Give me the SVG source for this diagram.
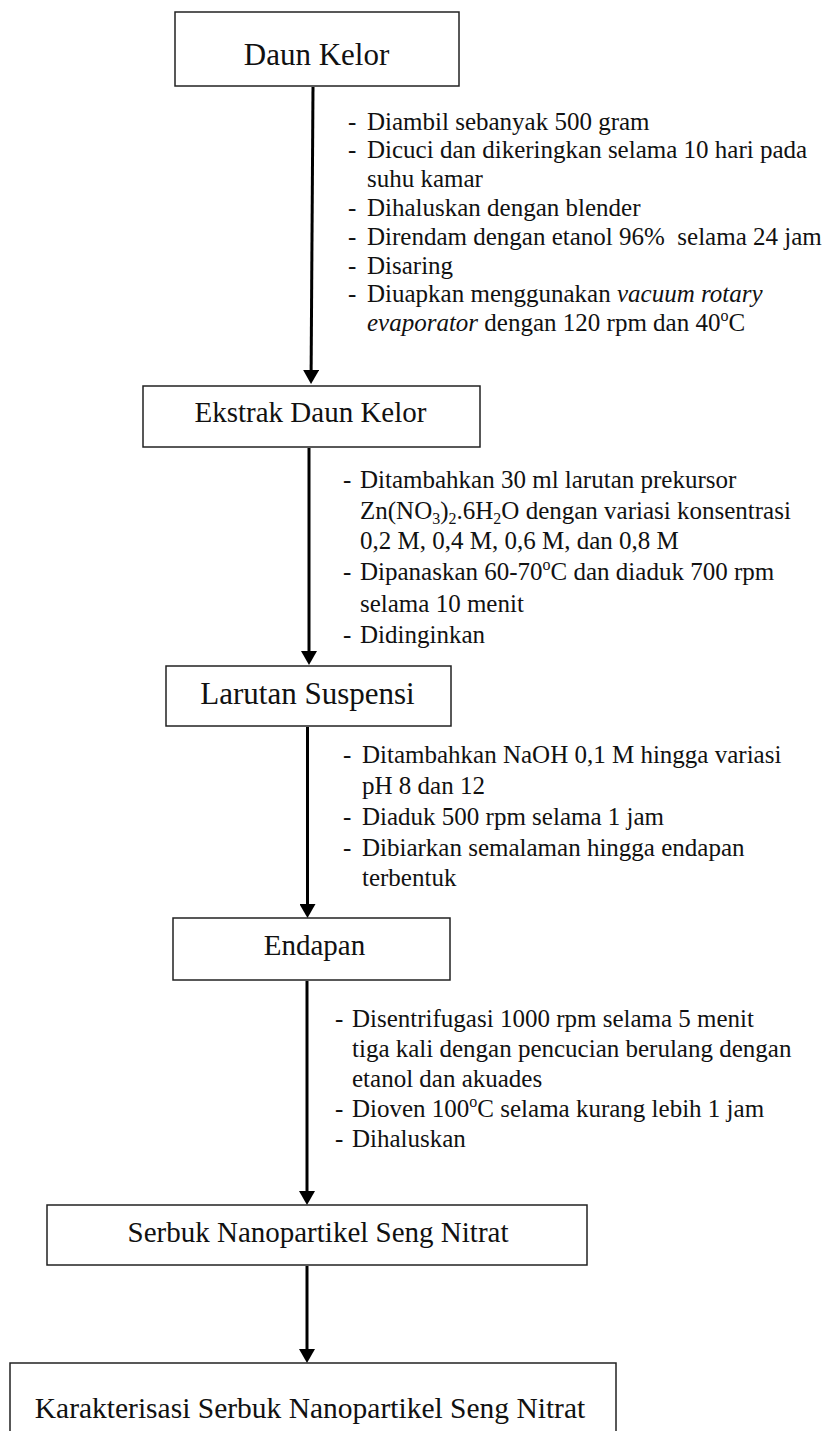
<svg xmlns="http://www.w3.org/2000/svg" width="824" height="1431" viewBox="0 0 824 1431">
<style>
.box{fill:#fff;stroke:#222;stroke-width:1.5}
.lbl{font-family:"Liberation Serif","Times New Roman",serif;fill:#111;text-anchor:middle}
.note{font-family:"Liberation Serif","Times New Roman",serif;font-size:25px;fill:#111}
.it{font-style:italic}
.sup{font-size:16px}
.sub{font-size:16px}
.conn{stroke:#000;stroke-width:3;fill:none;marker-end:url(#ah)}
</style>
<defs>
<marker id="ah" viewBox="0 0 14 16" refX="4" refY="8" markerWidth="14" markerHeight="16" markerUnits="userSpaceOnUse" orient="auto">
<path d="M0,0 L14,8 L0,16 z" fill="#000"/>
</marker>
</defs>
<rect width="824" height="1431" fill="#fff"/>
<g id="connectors">
<line class="conn" x1="313" y1="87" x2="311.1" y2="374"/>
<line class="conn" x1="309" y1="448" x2="309" y2="655"/>
<line class="conn" x1="307.5" y1="727" x2="307.5" y2="908"/>
<line class="conn" x1="307" y1="981" x2="307" y2="1195"/>
<line class="conn" x1="307" y1="1266" x2="307" y2="1353"/>
</g>
<g id="node-daun-kelor">
<rect class="box" x="175" y="12" width="284" height="74"/>
<text class="lbl" x="316.5" y="65" font-size="31">Daun Kelor</text>
</g>
<g id="notes-1">
<text class="note" x="348" y="129.5">-</text>
<text class="note" x="367" y="129.5">Diambil sebanyak 500 gram</text>
<text class="note" x="348" y="158.3">-</text>
<text class="note" x="367" y="158.3">Dicuci dan dikeringkan selama 10 hari pada</text>
<text class="note" x="367" y="187.1">suhu kamar</text>
<text class="note" x="348" y="215.9">-</text>
<text class="note" x="367" y="215.9">Dihaluskan dengan blender</text>
<text class="note" x="348" y="244.7">-</text>
<text class="note" x="367" y="244.7" xml:space="preserve">Direndam dengan etanol 96%  selama 24 jam</text>
<text class="note" x="348" y="273.5">-</text>
<text class="note" x="367" y="273.5">Disaring</text>
<text class="note" x="348" y="302.3">-</text>
<text class="note" x="367" y="302.3">Diuapkan menggunakan <tspan class="it">vacuum rotary</tspan></text>
<text class="note" x="367" y="331.1"><tspan class="it">evaporator</tspan> dengan 120 rpm dan 40<tspan class="sup" dy="-10">o</tspan><tspan dy="10">C</tspan></text>
</g>
<g id="node-ekstrak">
<rect class="box" x="143" y="386" width="337" height="61"/>
<text class="lbl" x="310.5" y="422" font-size="29">Ekstrak Daun Kelor</text>
</g>
<g id="notes-2">
<text class="note" x="343" y="488">-</text>
<text class="note" x="360" y="488">Ditambahkan 30 ml larutan prekursor</text>
<text class="note" x="360" y="519">Zn(NO<tspan class="sub" dy="5">3</tspan><tspan dy="-5">)</tspan><tspan class="sub" dy="5">2</tspan><tspan dy="-5">.6H</tspan><tspan class="sub" dy="5">2</tspan><tspan dy="-5">O dengan variasi konsentrasi</tspan></text>
<text class="note" x="360" y="549">0,2 M, 0,4 M, 0,6 M, dan 0,8 M</text>
<text class="note" x="343" y="580">-</text>
<text class="note" x="360" y="580">Dipanaskan 60-70<tspan class="sup" dy="-10">o</tspan><tspan dy="10">C dan diaduk 700 rpm</tspan></text>
<text class="note" x="360" y="612">selama 10 menit</text>
<text class="note" x="343" y="643">-</text>
<text class="note" x="360" y="643">Didinginkan</text>
</g>
<g id="node-larutan">
<rect class="box" x="166" y="666" width="285" height="60"/>
<text class="lbl" x="307.5" y="704" font-size="31">Larutan Suspensi</text>
</g>
<g id="notes-3">
<text class="note" x="343" y="763">-</text>
<text class="note" x="362" y="763">Ditambahkan NaOH 0,1 M hingga variasi</text>
<text class="note" x="362" y="794">pH 8 dan 12</text>
<text class="note" x="343" y="825">-</text>
<text class="note" x="362" y="825">Diaduk 500 rpm selama 1 jam</text>
<text class="note" x="343" y="856">-</text>
<text class="note" x="362" y="856">Dibiarkan semalaman hingga endapan</text>
<text class="note" x="362" y="886">terbentuk</text>
</g>
<g id="node-endapan">
<rect class="box" x="173" y="918" width="277" height="62"/>
<text class="lbl" x="314.5" y="955" font-size="29">Endapan</text>
</g>
<g id="notes-4">
<text class="note" x="335" y="1027">-</text>
<text class="note" x="352" y="1027">Disentrifugasi 1000 rpm selama 5 menit</text>
<text class="note" x="352" y="1057">tiga kali dengan pencucian berulang dengan</text>
<text class="note" x="352" y="1087">etanol dan akuades</text>
<text class="note" x="335" y="1117">-</text>
<text class="note" x="352" y="1117">Dioven 100<tspan class="sup" dy="-10">o</tspan><tspan dy="10">C selama kurang lebih 1 jam</tspan></text>
<text class="note" x="335" y="1147">-</text>
<text class="note" x="352" y="1147">Dihaluskan</text>
</g>
<g id="node-serbuk">
<rect class="box" x="47" y="1205" width="540" height="60"/>
<text class="lbl" x="318" y="1242" font-size="29">Serbuk Nanopartikel Seng Nitrat</text>
</g>
<g id="node-karakterisasi">
<rect class="box" x="10" y="1363" width="606" height="100"/>
<text class="lbl" x="310" y="1418" font-size="29.5">Karakterisasi Serbuk Nanopartikel Seng Nitrat</text>
</g>
</svg>
